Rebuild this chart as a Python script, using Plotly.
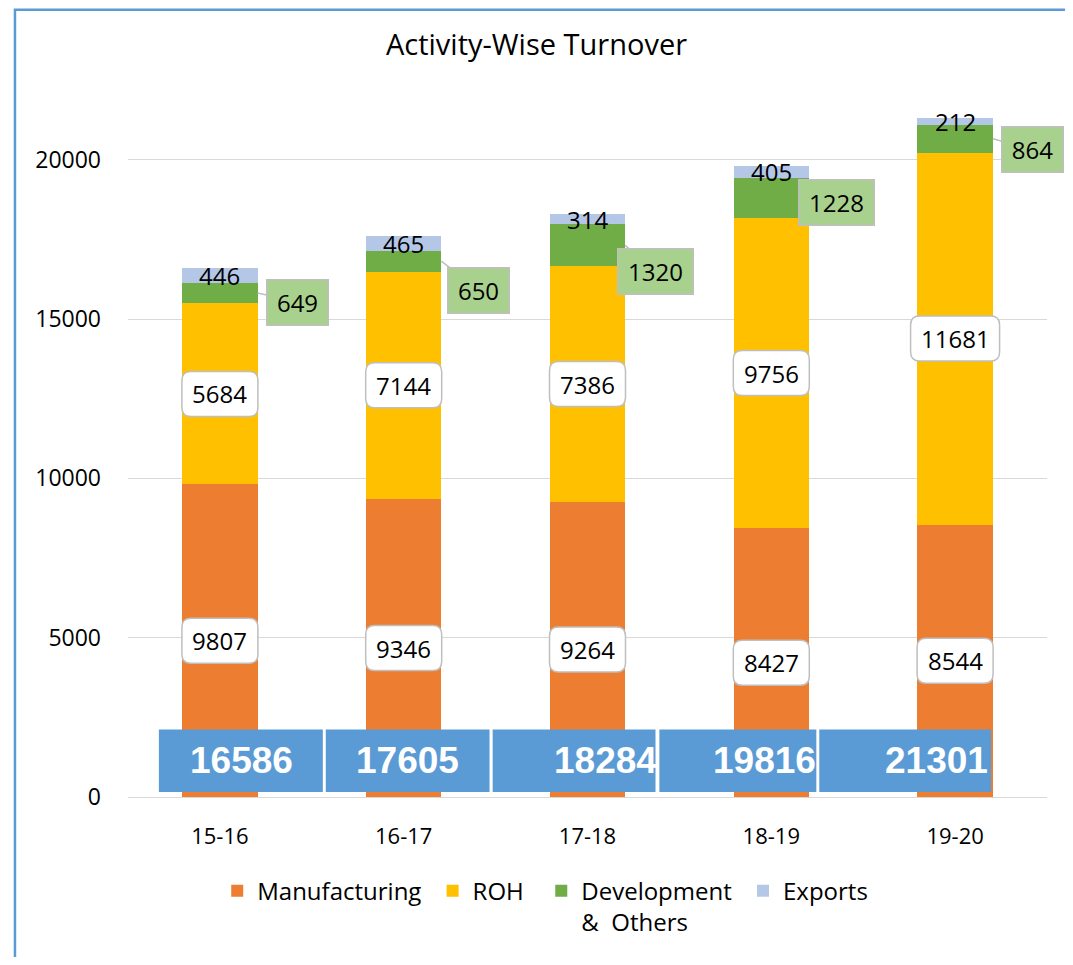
import plotly.graph_objects as go

# ---------------- data ----------------
years = ["15-16", "16-17", "17-18", "18-19", "19-20"]
manufacturing = [9807, 9346, 9264, 8427, 8544]
roh = [5684, 7144, 7386, 9756, 11681]
development = [649, 650, 1320, 1228, 864]
exports = [446, 465, 314, 405, 212]
totals = [16586, 17605, 18284, 19816, 21301]
series_names = ["Manufacturing\u00a0", "ROH\u00a0\u00a0", "Development\u00a0<br>&  Others", "Exports"]
y_ticks = [0, 5000, 10000, 15000, 20000]
y_tick_text = ["0", "5000", "10000", "15000", "20000"]

# ---------------- styles / positions ----------------
colors = ["#ED7D31", "#FFC000", "#70AD47", "#B4C7E7"]
FONT = "Open Sans"
BAR_W = 0.41
LABEL_FS = 24
# pixel offsets of the development labels (from bar right edge at segment centre)
dev_offsets = [(40, 9), (37, 29), (30, 26), (28, 4), (40, 11)]
# total box extents relative to category centre (category units), text offset
total_box = [(-0.332, 0.560, 0.117), (-0.424, 0.467, 0.022), (-0.516, 0.370, 0.098),
             (-0.609, 0.245, -0.038), (-0.739, 0.196, -0.103)]
TOTAL_Y0, TOTAL_Y1 = 155, 2115

fig = go.Figure()
for name, vals, col in zip(series_names, [manufacturing, roh, development, exports], colors):
    fig.add_trace(go.Bar(x=years, y=vals, name=name, marker_color=col,
                         marker_line_width=0, width=BAR_W))

shapes = []
annotations = []


def rounded_path(w, h, r):
    a, b = w / 2, h / 2
    return (f"M {-a + r},{-b} L {a - r},{-b} Q {a},{-b} {a},{-b + r} "
            f"L {a},{b - r} Q {a},{b} {a - r},{b} L {-a + r},{b} "
            f"Q {-a},{b} {-a},{b - r} L {-a},{-b + r} Q {-a},{-b} {-a + r},{-b} Z")


for i in range(len(years)):
    m, r_, d, e = manufacturing[i], roh[i], development[i], exports[i]
    # manufacturing & ROH labels in rounded white boxes
    for val, base in [(m, 0), (r_, m)]:
        yc = base + val / 2
        w = 76 if len(str(val)) <= 4 else 89
        shapes.append(dict(type="path", xref="x", yref="y", xsizemode="pixel",
                           ysizemode="pixel", xanchor=i, yanchor=yc,
                           path=rounded_path(w, 45, 9), fillcolor="white",
                           line=dict(color="#BFBFBF", width=1.5), layer="above"))
        annotations.append(dict(x=i, y=yc, xref="x", yref="y", text=str(val),
                                showarrow=False,
                                font=dict(family=FONT, size=LABEL_FS, color="black")))
    # development label: green box with leader line
    ydev = m + r_ + d / 2
    ax, ay = dev_offsets[i]
    annotations.append(dict(x=i + BAR_W / 2, y=ydev, xref="x", yref="y", text=str(d),
                            showarrow=True, arrowhead=0, arrowwidth=1.5,
                            arrowcolor="#BFBFBF", ax=ax, ay=ay,
                            width=58 if len(str(d)) <= 3 else 72, height=42,
                            bgcolor="#A9D18E", bordercolor="#BFBFBF", borderwidth=1.5,
                            font=dict(family=FONT, size=LABEL_FS, color="black")))
    # exports label
    yexp = m + r_ + d + e / 2
    annotations.append(dict(x=i, y=yexp, xref="x", yref="y", text=str(e),
                            showarrow=False,
                            font=dict(family=FONT, size=LABEL_FS, color="black")))
    # total boxes
    x0, x1, tx = total_box[i]
    shapes.append(dict(type="rect", xref="x", yref="y", x0=i + x0, x1=i + x1,
                       y0=TOTAL_Y0, y1=TOTAL_Y1, fillcolor="#5B9BD5",
                       line=dict(width=0), layer="above"))
    annotations.append(dict(x=i + tx, y=(TOTAL_Y0 + TOTAL_Y1) / 2, xref="x", yref="y",
                            text=f"<b>{totals[i]}</b>", showarrow=False,
                            font=dict(family="Liberation Sans, Arial", size=37,
                                      color="white")))

# outer chart frame
shapes.append(dict(type="rect", xref="paper", yref="paper", x0=-0.123, x1=1.025,
                   y0=-0.3, y1=1.098, line=dict(color="#5B9BD5", width=2.5),
                   fillcolor="rgba(0,0,0,0)", layer="below"))

fig.update_layout(
    barmode="stack",
    width=1057, height=949,
    margin=dict(l=120, r=18, t=72, b=154),
    paper_bgcolor="white", plot_bgcolor="white",
    title=dict(text="Activity-Wise Turnover", x=0.5, xanchor="center",
               y=0.961, yanchor="middle",
               font=dict(family=FONT, size=29, color="black")),
    font=dict(family=FONT, color="black"),
    showlegend=True,
    legend=dict(orientation="h", x=0.454, xanchor="center", y=-0.1, yanchor="top",
                font=dict(family=FONT, size=24, color="black"), traceorder="normal",
                itemwidth=30, valign="top"),
    shapes=shapes,
    annotations=annotations,
    bargap=0.59,
)
fig.update_xaxes(range=[-0.5, 4.5], autorange=False, showgrid=False, showline=False,
                 ticks="", tickfont=dict(family=FONT, size=22, color="black"),
                 ticklabelstandoff=24)
fig.update_yaxes(range=[0, 22500], tickvals=y_ticks, ticktext=y_tick_text,
                 showgrid=True, gridcolor="#D9D9D9", gridwidth=1, zeroline=True,
                 zerolinecolor="#D9D9D9", zerolinewidth=1, showline=False,
                 tickfont=dict(family=FONT, size=23, color="black"),
                 ticklabelstandoff=26)

fig.write_html("out.html")
